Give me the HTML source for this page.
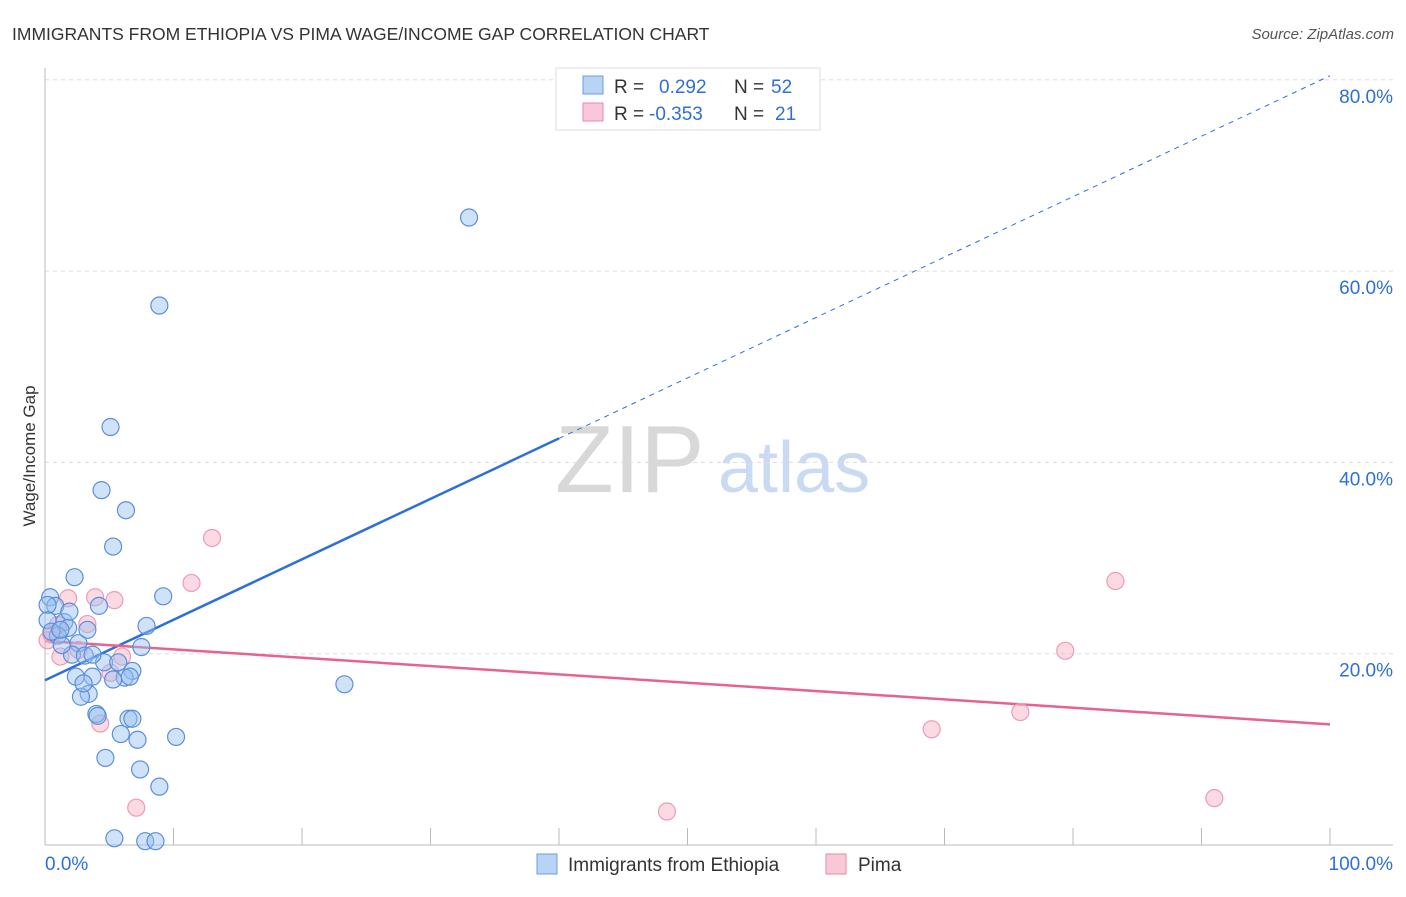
<!DOCTYPE html>
<html><head><meta charset="utf-8"><style>
body{margin:0;background:#fff;font-family:"Liberation Sans",sans-serif}
svg text{font-family:"Liberation Sans",sans-serif}
</style></head><body>
<svg id="c" width="1406" height="892">
<text x="12" y="40" font-size="17.5" fill="#333">IMMIGRANTS FROM ETHIOPIA VS PIMA WAGE/INCOME GAP CORRELATION CHART</text>
<text x="1394" y="39" font-size="15" fill="#555" font-style="italic" text-anchor="end">Source: ZipAtlas.com</text>
<text x="35" y="456" font-size="17" fill="#333" text-anchor="middle" transform="rotate(-90 35 456)">Wage/Income Gap</text>
<text x="555" y="492" font-size="96" fill="#d8d8d8" font-family="Liberation Serif">ZIP</text>
<text x="718" y="492" font-size="72" fill="#c9daf2">atlas</text>
<g id="grid"></g><g id="trend"></g><g id="pts"></g>
<g>
<rect x="556" y="68" width="264" height="62" fill="#fff" stroke="#ddd"/>
<rect x="583" y="76" width="20" height="18" fill="#b9d3f5" stroke="#6a9be0"/>
<rect x="583" y="103" width="20" height="18" fill="#f9c8d6" stroke="#ec8aa8"/>
<text x="614" y="93" font-size="19" fill="#333">R = </text><text x="659" y="93" font-size="19" fill="#2e6fd8">0.292</text>
<text x="734" y="93" font-size="19" fill="#333">N = </text><text x="771" y="93" font-size="19" fill="#2e6fd8">52</text>
<text x="614" y="120" font-size="19" fill="#333">R = </text><text x="649" y="120" font-size="19" fill="#2e6fd8">-0.353</text>
<text x="734" y="120" font-size="19" fill="#333">N = </text><text x="775" y="120" font-size="19" fill="#2e6fd8">21</text>
</g>
<g>
<rect x="537" y="854" width="20" height="20" fill="#b9d3f5" stroke="#6a9be0"/>
<text x="568" y="871" font-size="19" fill="#333">Immigrants from Ethiopia</text>
<rect x="826" y="854" width="20" height="20" fill="#f9c8d6" stroke="#ec8aa8"/>
<text x="858" y="871" font-size="19" fill="#333">Pima</text>
</g>
</svg>
<script>
const blueX=[33.0,8.9,5.1,4.4,6.3,5.3,2.3,9.2,0.4,0.8,4.2,7.9,1.5,3.3,1.8,1.0,2.6,7.5,2.1,3.1,4.6,5.7,6.8,2.4,3.7,6.2,6.6,23.3,3.4,2.8,4.0,4.1,6.5,6.8,5.9,7.2,10.2,4.7,7.4,8.9,5.4,7.8,8.6,0.2,0.2,0.5,1.3,3.7,5.3,3.0,1.9,1.2];
const blueY=[65.6,56.4,43.7,37.1,35.0,31.2,28.0,26.0,25.9,25.0,25.0,22.9,23.3,22.5,22.7,21.9,21.1,20.7,19.9,19.8,19.1,19.1,18.2,17.6,17.6,17.5,17.6,16.8,15.8,15.5,13.7,13.5,13.2,13.2,11.6,11.0,11.3,9.1,7.9,6.1,0.7,0.4,0.4,25.1,23.5,22.3,20.9,19.9,17.3,16.9,24.4,22.5];
const pinkX=[13.0,11.4,83.3,1.8,3.9,5.4,3.3,0.5,1.2,2.6,6.0,5.1,4.3,7.1,48.4,69.0,75.9,79.4,91.0,0.2,1.0];
const pinkY=[32.1,27.4,27.6,25.8,25.9,25.6,23.1,22.0,19.7,20.4,19.7,18.0,12.7,3.9,3.5,12.1,13.9,20.3,4.9,21.4,23.0];
const yTicks=[20,40,60,80];
const xTicks=[0,10,20,30,40,50,60,70,80,90,100];
const NS='http://www.w3.org/2000/svg';
const sx=v=>45+v*12.85, sy=v=>845-v*9.565;
function mk(t,a,p){const e=document.createElementNS(NS,t);for(const k in a)e.setAttribute(k,a[k]);document.getElementById(p).appendChild(e);return e;}
// grid
for(const t of yTicks){
const l=mk('line',{x1:45,x2:1393,y1:sy(t),y2:sy(t),stroke:'#ddd','stroke-dasharray':'4,4'},'grid');


const tx=mk('text',{x:1393,y:sy(t)+23,'font-size':19,fill:'#2e6fd8','text-anchor':'end'},'grid');tx.textContent=t.toFixed(1)+'%';


}
mk('line',{x1:45,x2:45,y1:68,y2:845,stroke:'#bbb'},'grid');
mk('line',{x1:45,x2:1393,y1:845,y2:845,stroke:'#bbb'},'grid');
for(const t of xTicks){const l=mk('line',{x1:sx(t),x2:sx(t),y1:828,y2:845,stroke:'#bbb'},'grid');

}
let a=mk('text',{x:45,y:870,'font-size':19,fill:'#2e6fd8'},'grid');a.textContent='0.0%';


a=mk('text',{x:1393,y:870,'font-size':19,fill:'#2e6fd8','text-anchor':'end'},'grid');a.textContent='100.0%';


function fit(X,Y){const n=X.length;let mx=0,my=0;for(let i=0;i<n;i++){mx+=X[i];my+=Y[i];}mx/=n;my/=n;let sxy=0,sxx=0;for(let i=0;i<n;i++){sxy+=(X[i]-mx)*(Y[i]-my);sxx+=(X[i]-mx)**2;}const b=sxy/sxx;return[my-b*mx,b];}
const [ba,bb]=fit(blueX,blueY),[pa,pb]=fit(pinkX,pinkY);
let t=mk('line',{x1:sx(0),y1:sy(ba),x2:sx(40),y2:sy(ba+bb*40),stroke:'#2e6fd8','stroke-width':2.5},'trend');


t=mk('line',{x1:sx(40),y1:sy(ba+bb*40),x2:sx(100),y2:sy(ba+bb*100),stroke:'#2e6fd8','stroke-width':1,'stroke-dasharray':'5,5'},'trend');


t=mk('line',{x1:sx(0),y1:sy(pa),x2:sx(100),y2:sy(pa+pb*100),stroke:'#e8628e','stroke-width':2.5},'trend');


for(let i=0;i<pinkX.length;i++){const c=mk('circle',{cx:sx(pinkX[i]),cy:sy(pinkY[i]),r:8.5,fill:'rgba(246,172,196,0.45)',stroke:'#f09ab5','stroke-width':1.2},'pts');

}
for(let i=0;i<blueX.length;i++){const c=mk('circle',{cx:sx(blueX[i]),cy:sy(blueY[i]),r:8.5,fill:'rgba(150,190,240,0.45)',stroke:'#5b8fdc','stroke-width':1.2},'pts');

}
</script>
</body></html>
